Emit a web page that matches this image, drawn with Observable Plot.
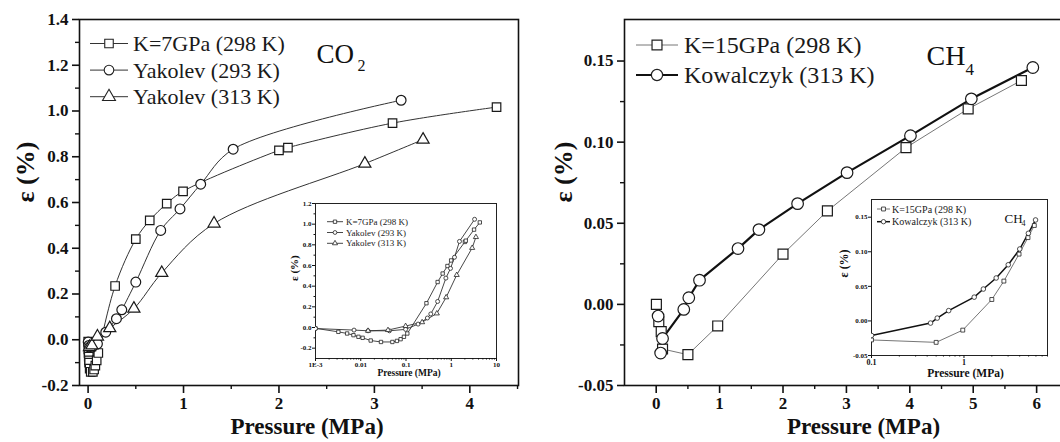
<!DOCTYPE html>
<html><head><meta charset="utf-8">
<script src="https://cdn.jsdelivr.net/npm/d3@7"></script>
<script src="https://cdn.jsdelivr.net/npm/@observablehq/plot@0.6"></script>
<style>
body{margin:0;background:#fff;}
#wrap{position:relative;width:1060px;height:442px;overflow:hidden;background:#fff;font-family:"Liberation Serif","DejaVu Serif",serif;}
#wrap svg{position:absolute;font-family:"Liberation Serif","DejaVu Serif",serif !important;}
#wrap svg text{font-family:"Liberation Serif","DejaVu Serif",serif !important;}
</style></head><body><div id="wrap"></div>
<script>
// ---------- data: CO2 panel ----------
const co2K7P   = [0.001,0.0032,0.005,0.0069,0.0089,0.011,0.0166,0.028,0.05,0.063,0.076,0.09,0.107,0.283,0.5,0.646,0.824,0.995,2.0,2.094,3.19,4.28];
const co2K7E   = [-0.008,-0.042,-0.058,-0.074,-0.09,-0.10,-0.126,-0.14,-0.14,-0.13,-0.113,-0.09,-0.058,0.235,0.44,0.522,0.595,0.649,0.828,0.84,0.947,1.017];
const co2Y293P = [0.001,0.0071,0.0145,0.043,0.098,0.185,0.297,0.353,0.5,0.761,0.963,1.18,1.52,3.28];
const co2Y293E = [-0.01,-0.025,-0.032,-0.032,-0.018,0.033,0.092,0.131,0.252,0.478,0.572,0.68,0.833,1.047];
const co2Y313P = [0.0145,0.04,0.098,0.227,0.48,0.772,1.32,2.9,3.51];
const co2Y313E = [-0.032,-0.025,0.014,0.051,0.136,0.292,0.508,0.77,0.875];
const co2Labels = ["K=7GPa (298 K)","Yakolev (293 K)","Yakolev (313 K)"];
const co2XTicks = [0,1,2,3,4];
const co2XMinor = [0.5,1.5,2.5,3.5,4.5];
const co2YTicks = [-0.2,0,0.2,0.4,0.6,0.8,1.0,1.2,1.4];
const co2YMinor = [-0.1,0.1,0.3,0.5,0.7,0.9,1.1,1.3];
const co2InsetXTicks = [0.001,0.01,0.1,1,10];
const co2InsetXLabels = ["1E-3","0.01","0.1","1","10"];
const co2InsetYTicks = [-0.2,0,0.2,0.4,0.6,0.8,1.0,1.2];
const co2InsetYMinor = [-0.1,0.1,0.3,0.5,0.7,0.9,1.1];

// ---------- data: CH4 panel ----------
const ch4K15P = [0.003,0.041,0.079,0.1,0.5,0.97,2.0,2.7,3.94,4.92,5.76];
const ch4K15E = [0.0,-0.0107,-0.0168,-0.0275,-0.031,-0.0133,0.031,0.0576,0.0966,0.1205,0.138];
const ch4KowP = [0.03,0.07,0.1,0.435,0.514,0.683,1.29,1.62,2.23,3.01,4.01,4.97,5.94];
const ch4KowE = [-0.0072,-0.030,-0.021,-0.0031,0.0041,0.0149,0.0344,0.0461,0.0621,0.0812,0.104,0.1267,0.146];
const ch4Labels = ["K=15GPa (298 K)","Kowalczyk (313 K)"];
const ch4XTicks = [0,1,2,3,4,5,6];
const ch4XMinor = [0.5,1.5,2.5,3.5,4.5,5.5];
const ch4YTicks = [-0.05,0,0.05,0.10,0.15];
const ch4YMinor = [-0.025,0.025,0.075,0.125];
const ch4InsetXTicks = [0.1,1];
const ch4InsetXMinor = [0.2,0.3,0.4,0.5,0.6,0.7,0.8,0.9,2,3,4,5,6,7,8];
const ch4InsetYTicks = [-0.05,0,0.05,0.10,0.15];

// ---------- helpers ----------
const rows = (P,E) => P.map((p,i)=>({p, e:E[i]}));
const co2K7 = rows(co2K7P,co2K7E), co2Y293 = rows(co2Y293P,co2Y293E), co2Y313 = rows(co2Y313P,co2Y313E);
const ch4K15 = rows(ch4K15P,ch4K15E), ch4Kow = rows(ch4KowP,ch4KowE);
const co2InsetXMinor = [];
for (const d of [0.001,0.01,0.1,1]) for (let k=2;k<=9;k++) co2InsetXMinor.push(d*k);

const FONT = "Liberation Serif, DejaVu Serif, serif";
const baseStyle = {background:"transparent", fontFamily:FONT, fontWeight:"bold", color:"#111", overflow:"visible"};
const wrap = document.getElementById("wrap");
function place(svg, left, top){
  svg.style.left = left+"px"; svg.style.top = top+"px"; svg.style.maxWidth="none";
  svg.setAttribute("font-family", FONT);
  wrap.appendChild(svg);
}
const mk = {stroke:"#1a1a1a", fill:"white", strokeWidth:1.2};

// ---------- CO2 main ----------
const co2Main = Plot.plot({
  width:530, height:442, marginLeft:79, marginRight:12, marginTop:19, marginBottom:57,
  x:{domain:[-0.09,4.51]}, y:{domain:[-0.2,1.4]},
  style: baseStyle,
  marks:[
    Plot.frame({stroke:"#111", strokeWidth:1.6}),
    Plot.axisX({ticks:co2XTicks, tickSize:8, tickPadding:3, strokeWidth:1.6, tickFormat:d=>String(d), fontSize:17, label:null}),
    Plot.axisX({ticks:co2XMinor, tickSize:4, strokeWidth:1.4, tickFormat:()=>"", label:null}),
    Plot.axisY({ticks:co2YTicks, tickSize:7, tickPadding:4, strokeWidth:1.6, tickFormat:d=>d.toFixed(1), fontSize:17, label:null}),
    Plot.axisY({ticks:co2YMinor, tickSize:4, strokeWidth:1.4, tickFormat:()=>"", label:null}),
    Plot.text(["ε (%)"], {text:d=>d, frameAnchor:"left", rotate:-90, dx:-54, fontSize:26}),
    Plot.text(["Pressure (MPa)"], {text:d=>d, frameAnchor:"bottom", dx:8, dy:48, fontSize:23}),
    Plot.text(["CO"], {text:d=>d, frameAnchor:"top-left", textAnchor:"start", dx:237, dy:24, fontSize:27, fontWeight:"normal"}),
    Plot.text(["2"], {text:d=>d, frameAnchor:"top-left", textAnchor:"start", dx:278, dy:40, fontSize:16, fontWeight:"normal"}),
    Plot.line(co2K7, {x:"p", y:"e", curve:"catmull-rom", stroke:"#333", strokeWidth:1}),
    Plot.line(co2Y293, {x:"p", y:"e", curve:"catmull-rom", stroke:"#333", strokeWidth:1}),
    Plot.line(co2Y313, {x:"p", y:"e", curve:"catmull-rom", stroke:"#333", strokeWidth:1}),
    Plot.dot(co2K7, {x:"p", y:"e", symbol:"square", r:4.8, ...mk}),
    Plot.dot(co2Y293, {x:"p", y:"e", symbol:"circle", r:4.9, ...mk}),
    Plot.dot(co2Y313, {x:"p", y:"e", symbol:"triangle", r:4.5, ...mk})
  ]
});
place(co2Main, 0, 0);

// ---------- CO2 inset ----------
const co2Inset = Plot.plot({
  width:220, height:190, marginLeft:35, marginRight:4, marginTop:8, marginBottom:27,
  x:{type:"log", domain:[0.001,10]}, y:{domain:[-0.3,1.2]},
  style: baseStyle,
  marks:[
    Plot.frame({stroke:"#222", strokeWidth:1}),
    Plot.axisX({ticks:co2InsetXTicks, tickSize:3, tickPadding:1, tickFormat:d=>co2InsetXLabels[co2InsetXTicks.indexOf(d)], fontSize:7, label:null}),
    Plot.axisX({ticks:co2InsetXMinor, tickSize:1.5, tickFormat:()=>"", label:null}),
    Plot.axisY({ticks:co2InsetYTicks, tickSize:3, tickPadding:1, tickFormat:d=>d.toFixed(1), fontSize:7, label:null}),
    Plot.axisY({ticks:co2InsetYMinor, tickSize:1.5, tickFormat:()=>"", label:null}),
    Plot.text(["Pressure (MPa)"], {text:d=>d, frameAnchor:"bottom", dx:3, dy:17.5, fontSize:9.5}),
    Plot.text(["ε (%)"], {text:d=>d, frameAnchor:"left", rotate:-90, dx:-21, fontSize:11}),
    Plot.line(co2K7, {x:"p", y:"e", stroke:"#333", strokeWidth:0.9, clip:true}),
    Plot.line(co2Y293, {x:"p", y:"e", stroke:"#333", strokeWidth:0.9, clip:true}),
    Plot.line(co2Y313, {x:"p", y:"e", stroke:"#333", strokeWidth:0.9, clip:true}),
    Plot.dot(co2K7, {x:"p", y:"e", symbol:"square", r:1.9, stroke:"#222", fill:"white", strokeWidth:0.8, clip:true}),
    Plot.dot(co2Y293, {x:"p", y:"e", symbol:"circle", r:2, stroke:"#222", fill:"white", strokeWidth:0.8, clip:true}),
    Plot.dot(co2Y313, {x:"p", y:"e", symbol:"triangle", r:1.9, stroke:"#222", fill:"white", strokeWidth:0.8, clip:true})
  ]
});
place(co2Inset, 280, 195);

// ---------- CH4 main ----------
const ch4Main = Plot.plot({
  width:534, height:442, marginLeft:94, marginRight:2, marginTop:19, marginBottom:57,
  x:{domain:[-0.5,6.408]}, y:{domain:[-0.05,0.1756]},
  style: baseStyle,
  marks:[
    Plot.frame({stroke:"#111", strokeWidth:1.6}),
    Plot.axisX({ticks:ch4XTicks, tickSize:8, tickPadding:3, strokeWidth:1.6, tickFormat:d=>String(d), fontSize:17, label:null}),
    Plot.axisX({ticks:ch4XMinor, tickSize:4, strokeWidth:1.4, tickFormat:()=>"", label:null}),
    Plot.axisY({ticks:ch4YTicks, tickSize:7, tickPadding:4, strokeWidth:1.6, tickFormat:d=>d.toFixed(2), fontSize:17, label:null}),
    Plot.axisY({ticks:ch4YMinor, tickSize:4, strokeWidth:1.4, tickFormat:()=>"", label:null}),
    Plot.text(["ε (%)"], {text:d=>d, frameAnchor:"left", rotate:-90, dx:-61, fontSize:26}),
    Plot.text(["Pressure (MPa)"], {text:d=>d, frameAnchor:"bottom", dx:20, dy:48, fontSize:23}),
    Plot.text(["CH"], {text:d=>d, frameAnchor:"top-left", textAnchor:"start", dx:302, dy:26, fontSize:28, fontWeight:"normal"}),
    Plot.text(["4"], {text:d=>d, frameAnchor:"top-left", textAnchor:"start", dx:341, dy:43, fontSize:17, fontWeight:"normal"}),
    Plot.line(ch4K15, {x:"p", y:"e", stroke:"#777", strokeWidth:1}),
    Plot.line(ch4Kow, {x:"p", y:"e", stroke:"#111", strokeWidth:2.2}),
    Plot.dot(ch4K15, {x:"p", y:"e", symbol:"square", r:5.6, ...mk}),
    Plot.dot(ch4Kow, {x:"p", y:"e", symbol:"circle", r:5.8, ...mk})
  ]
});
place(ch4Main, 530, 0);

// ---------- CH4 inset ----------
const ch4Inset = Plot.plot({
  width:210, height:193, marginLeft:31, marginRight:3, marginTop:7, marginBottom:30,
  x:{type:"log", domain:[0.1,8]}, y:{domain:[-0.05,0.1756]},
  style: baseStyle,
  marks:[
    Plot.frame({stroke:"#222", strokeWidth:1}),
    Plot.axisX({ticks:ch4InsetXTicks, tickSize:3, tickPadding:1, tickFormat:d=>String(d), fontSize:8, label:null}),
    Plot.axisX({ticks:ch4InsetXMinor, tickSize:1.5, tickFormat:()=>"", label:null}),
    Plot.axisY({ticks:ch4InsetYTicks, tickSize:3, tickPadding:1, tickFormat:d=>d.toFixed(2), fontSize:7, label:null}),
    Plot.text(["Pressure (MPa)"], {text:d=>d, frameAnchor:"bottom", dx:6, dy:21, fontSize:11.5}),
    Plot.text(["ε (%)"], {text:d=>d, frameAnchor:"left", rotate:-90, dx:-27, fontSize:12}),
    Plot.text(["CH"], {text:d=>d, frameAnchor:"top-left", textAnchor:"start", dx:133, dy:14, fontSize:13, fontWeight:"normal"}),
    Plot.text(["4"], {text:d=>d, frameAnchor:"top-left", textAnchor:"start", dx:150, dy:21, fontSize:8, fontWeight:"normal"}),
    Plot.line(ch4K15, {x:"p", y:"e", stroke:"#666", strokeWidth:0.9, clip:true}),
    Plot.line(ch4Kow, {x:"p", y:"e", stroke:"#111", strokeWidth:1.5, clip:true}),
    Plot.dot(ch4K15, {x:"p", y:"e", symbol:"square", r:2.2, stroke:"#222", fill:"white", strokeWidth:0.8, clip:true}),
    Plot.dot(ch4Kow, {x:"p", y:"e", symbol:"circle", r:2.3, stroke:"#222", fill:"white", strokeWidth:0.8, clip:true})
  ]
});
place(ch4Inset, 840, 192);

// ---------- legends (overlay) ----------
const ov = d3.select(wrap).append("svg").attr("width",1060).attr("height",442)
  .style("left","0px").style("top","0px").style("pointer-events","none");
const symType = {square:d3.symbolSquare, circle:d3.symbolCircle, triangle:d3.symbolTriangle};
function legend(items, o){
  items.forEach((it,i)=>{
    const y = o.y0 + i*o.dy;
    ov.append("line").attr("x1",o.x0).attr("x2",o.x1).attr("y1",y).attr("y2",y)
      .attr("stroke",it.lc).attr("stroke-width",it.lw);
    ov.append("path").attr("d", d3.symbol().type(symType[it.sym]).size(Math.PI*o.r*o.r)())
      .attr("transform",`translate(${(o.x0+o.x1)/2},${y})`)
      .attr("fill","white").attr("stroke","#222").attr("stroke-width",o.sw);
    ov.append("text").attr("x",o.tx).attr("y",y).attr("dy","0.35em")
      .attr("font-size",o.fs).attr("fill","#1a1a1a")
      .attr("font-family",FONT).text(it.label);
  });
}
const co2Syms = ["square","circle","triangle"];
legend(co2Labels.map((l,i)=>({label:l, sym:co2Syms[i], lc:"#333", lw:1})),
  {x0:90, x1:128, y0:43.5, dy:26.6, tx:133, fs:22, r:4.8, sw:1.1});
legend(co2Labels.map((l,i)=>({label:l, sym:co2Syms[i], lc:"#333", lw:0.9})),
  {x0:327, x1:343, y0:221.7, dy:10.8, tx:346, fs:9, r:1.9, sw:0.8});
const ch4Syms = ["square","circle"];
legend(ch4Labels.map((l,i)=>({label:l, sym:ch4Syms[i], lc:i?"#111":"#777", lw:i?2.2:1})),
  {x0:636, x1:678, y0:45, dy:30, tx:684, fs:24, r:5.6, sw:1.2});
legend(ch4Labels.map((l,i)=>({label:l, sym:ch4Syms[i], lc:i?"#111":"#666", lw:i?1.5:0.9})),
  {x0:877, x1:890, y0:209, dy:12.7, tx:892, fs:10, r:2.2, sw:0.8});
</script>
</body></html>
